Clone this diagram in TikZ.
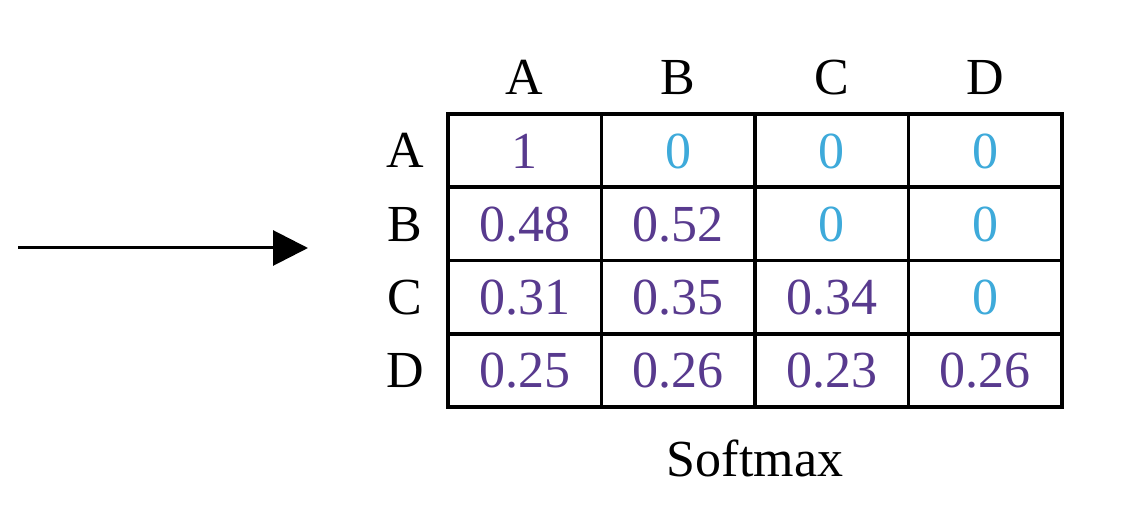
\documentclass[tikz,border=0pt]{standalone}
\usepackage{fontspec}
\setmainfont{Liberation Serif}
\usetikzlibrary{math,arrows.meta}
\definecolor{prob}{RGB}{88,58,142}
\definecolor{zero}{RGB}{62,170,218}
\begin{document}
\begin{tikzpicture}[x=0.5pt,y=-0.5pt]
\tikzmath{\X=448; \Y=114; \W=153.5; \H=73.25;}
\tikzset{
  lbl/.style={font=\fontsize{26}{30}\selectfont, inner sep=0pt, text height=17.2pt, text depth=0pt},
  val/.style={lbl, text height=17.6pt},
  cellline/.style={line width=1.8pt},
  flow/.style={-{Triangle[length=17.5pt,width=17.5pt]}, line width=1.5pt}
}
\useasboundingbox (0,0) rectangle (1121,518);
% Grid
\draw[cellline] (\X,\Y) rectangle (\X+4*\W,\Y+4*\H);
\foreach \k in {1,2,3} {
  \draw[cellline] (\X+\k*\W,\Y) -- (\X+\k*\W,\Y+4*\H);
  \draw[cellline] (\X,\Y+\k*\H) -- (\X+4*\W,\Y+\k*\H);
}
% Labels
\foreach \t [count=\i] in {A,B,C,D} {
  \node[lbl] (col\t) at (\X+\i*\W-.5*\W,77) {\t};
  \node[lbl] (row\t) at (405,\Y+\i*\H-.5*\H) {\t};
}
% Values
\foreach \r/\vals in {1/{1,0,0,0},2/{0.48,0.52,0,0},3/{0.31,0.35,0.34,0},4/{0.25,0.26,0.23,0.26}}
  \foreach \v [count=\c] in \vals {
    \ifnum\pdfstrcmp{\v}{0}=0 \def\col{zero}\else \def\col{prob}\fi
    \node[val, text=\col] (c\r\c) at (\X+\c*\W-.5*\W,\Y+\r*\H-.5*\H) {\v};
  }
% Text
\node[lbl, anchor=base] (softmax) at (\X+2*\W,477) {Softmax};
% Arrow
\coordinate (src) at (18,248);
\coordinate (dst) at (308,248);
\draw[flow] (src) -- (dst);
\end{tikzpicture}
\end{document}
